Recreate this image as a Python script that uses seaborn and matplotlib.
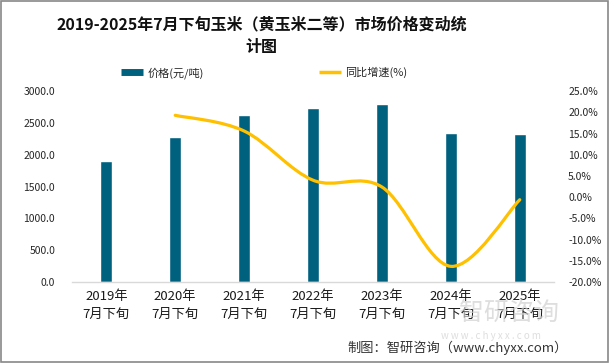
import numpy as np
import pandas as pd
import matplotlib
matplotlib.use("Agg")
import matplotlib.pyplot as plt
import seaborn as sns
from matplotlib.path import Path
from matplotlib.patches import PathPatch, Rectangle
from matplotlib.lines import Line2D
from matplotlib.ticker import FuncFormatter

# ---- data ----
categories = ["2019年\n7月下旬", "2020年\n7月下旬", "2021年\n7月下旬", "2022年\n7月下旬",
              "2023年\n7月下旬", "2024年\n7月下旬", "2025年\n7月下旬"]
price = [1900, 2277, 2623, 2733, 2796, 2340, 2325]
growth = [np.nan, 19.3, 15.6, 4.0, 2.4, -16.3, -0.6]
left_ticks = [0, 500, 1000, 1500, 2000, 2500, 3000]
right_ticks = [-20, -15, -10, -5, 0, 5, 10, 15, 20, 25]
title = "2019-2025年7月下旬玉米（黄玉米二等）市场价格变动统\n计图"
legend_labels = ["价格(元/吨)", "同比增速(%)"]
source = "制图：智研咨询（www.chyxx.com）"
watermark = "智研咨询"
watermark_url = "w w w . c h y x x . c o m"

BAR_C = "#00617f"
LINE_C = "#ffc000"

sns.set_theme(style="white")
plt.rcParams["font.family"] = ["Noto Sans CJK SC", "DejaVu Sans"]

fig = plt.figure(figsize=(6.09, 3.63), dpi=100)
ax = fig.add_axes([0.118, 0.223, 0.792, 0.526])

df = pd.DataFrame({"cat": categories, "price": price})
sns.barplot(data=df, x="cat", y="price", order=categories, color=BAR_C,
            width=0.175, saturation=1, ax=ax)
ax.set_xlim(-0.5, len(categories) - 0.5)
ax.set_ylim(0, 3000)
ax.set_yticks(left_ticks)
ax.yaxis.set_major_formatter(FuncFormatter(lambda v, p: f"{v:.1f}"))
ax.set_xlabel("")
ax.set_ylabel("")
ax.tick_params(axis="y", length=0, pad=12, labelsize=7.5, labelcolor="#262626")
ax.tick_params(axis="x", length=0, pad=6, labelsize=9.5, labelcolor="#1a1a1a")
for lab in ax.get_xticklabels():
    lab.set_linespacing(1.45)
for s in ["top", "left", "right"]:
    ax.spines[s].set_visible(False)
ax.spines["bottom"].set_color("#d9d9d9")
ax.spines["bottom"].set_linewidth(1)

ax2 = ax.twinx()
ax2.set_ylim(-20, 25)
ax2.set_yticks(right_ticks)
ax2.yaxis.set_major_formatter(FuncFormatter(lambda v, p: f"{v:.1f}%"))
ax2.tick_params(axis="y", length=0, pad=10, labelsize=7.5, labelcolor="#262626")
for s in ["top", "left", "right", "bottom"]:
    ax2.spines[s].set_visible(False)
ax2.grid(False)
ax.grid(False)

# smoothed line (Catmull-Rom style Bezier through data points)
xs = [i for i, g in enumerate(growth) if not np.isnan(g)]
ys = [g for g in growth if not np.isnan(g)]
pts = np.column_stack([xs, ys]).astype(float)
verts = [tuple(pts[0])]
codes = [Path.MOVETO]
n = len(pts)
for i in range(n - 1):
    p0 = pts[i - 1] if i > 0 else pts[i]
    p1 = pts[i]
    p2 = pts[i + 1]
    p3 = pts[i + 2] if i + 2 < n else pts[i + 1]
    c1 = p1 + (p2 - p0) / 6.0
    c2 = p2 - (p3 - p1) / 6.0
    verts += [tuple(c1), tuple(c2), tuple(p2)]
    codes += [Path.CURVE4] * 3
ax2.add_patch(PathPatch(Path(verts, codes), facecolor="none", edgecolor=LINE_C,
                        lw=2.3, capstyle="round", joinstyle="round", zorder=3))

# title
fig.text(0.43, 0.902, title, ha="center", va="center", fontsize=11.5,
         fontweight="bold", linespacing=1.5, color="#111111")

# legend
handles = [Line2D([0], [0], color=BAR_C, lw=5, solid_capstyle="butt"),
           Line2D([0], [0], color=LINE_C, lw=2.5, solid_capstyle="butt")]
fig.legend(handles, legend_labels, loc="center", bbox_to_anchor=(0.434, 1 - 73 / 363),
           ncol=2, frameon=False, fontsize=8, handlelength=2.0, handletextpad=0.4,
           columnspacing=10.3)

# watermark (faint, behind)
fig.text(509 / 609, 1 - 313 / 363, watermark, ha="center", va="center", fontsize=18,
         color="#d0d0d0", alpha=0.7, zorder=0)
fig.text(491 / 609, 1 - 336 / 363, watermark_url, ha="center", va="center",
         fontsize=7, color="#d0d0d0", alpha=0.7, zorder=0)

# source
fig.text(568 / 609, 1 - 348 / 363, source, ha="right", va="center", fontsize=9.5,
         color="#333333")

# border
fig.add_artist(Rectangle((0.001, 0.002), 0.997, 0.996, transform=fig.transFigure,
                         fill=False, edgecolor="#888888", lw=1.2))

fig.savefig("out.png", dpi=100)
